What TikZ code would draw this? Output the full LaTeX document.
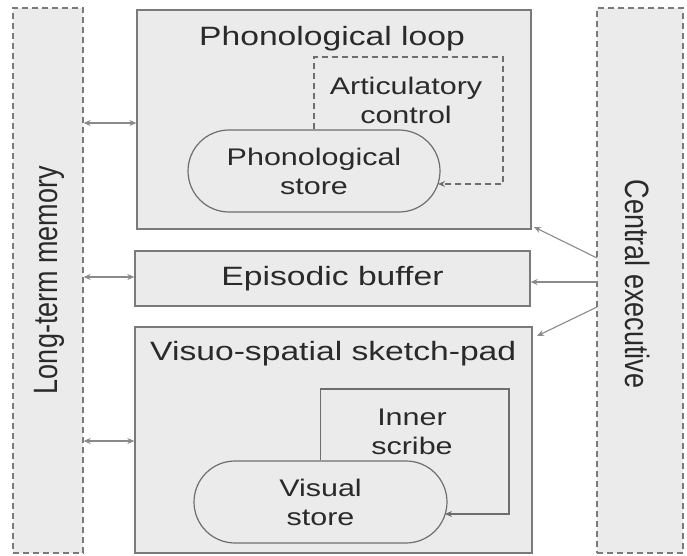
\documentclass[tikz,border=0pt]{standalone}
\usepackage{fontspec}
\usepackage{graphicx}
\setmainfont[FakeStretch=1.27]{Liberation Sans}
\newfontfamily\rotfont{Liberation Sans}
\usetikzlibrary{arrows.meta,shapes.misc}
\definecolor{boxfill}{HTML}{EBEBEB}
\definecolor{boxline}{HTML}{7A7A7A}
\definecolor{txt}{HTML}{2A2A2A}
\definecolor{arr}{HTML}{8A8A8A}
\tikzset{
  outerbox/.style={draw=boxline, fill=boxfill, line width=1.3pt, dash pattern=on 6pt off 4pt},
  modbox/.style={draw=boxline, fill=boxfill, line width=1.3pt},
  storebox/.style={rounded rectangle, draw=boxline!90!black, line width=1.2pt, fill=boxfill,
     inner sep=0pt, align=center, text=txt, font=\fontsize{24}{29}\selectfont},
  titletxt/.style={text=txt, font=\fontsize{26.5}{29}\selectfont, inner sep=0pt},
  subtxt/.style={text=txt, font=\fontsize{24}{29}\selectfont, align=center, inner sep=0pt},
  rottxt/.style={text=txt, font=\rotfont\fontsize{27}{29}\selectfont, inner sep=0pt},
  link/.style={draw=arr, line width=1.1pt},
  tip/.style={-{Stealth[length=7pt,width=6pt]}},
  dtip/.style={{Stealth[length=7pt,width=6pt]}-{Stealth[length=7pt,width=6pt]}},
  loopline/.style={draw=boxline!90!black, line width=1.1pt},
}
\begin{document}
\begin{tikzpicture}[x=1pt,y=-1pt]
\useasboundingbox (0,0) rectangle (687,556);
% outer columns
\node[outerbox, minimum width=70pt, minimum height=545pt, inner sep=0pt] (ltm) at (48,280.5) {};
\node[outerbox, minimum width=86pt, minimum height=545pt, inner sep=0pt] (ce) at (640,280.5) {};
\node[rottxt, rotate=90] (ltmt) at (49,280) {\scalebox{1}[1.25]{Long-term memory}};
\node[rottxt, rotate=-90] (cet) at (638,284) {\scalebox{1}[1.25]{Central executive}};
% modules
\node[modbox, minimum width=394pt, minimum height=219pt, inner sep=0pt] (pl) at (334,119.5) {};
\node[modbox, minimum width=395pt, minimum height=55pt, inner sep=0pt] (eb) at (332.5,278.5) {};
\node[modbox, minimum width=397pt, minimum height=226pt, inner sep=0pt] (vs) at (333.5,440) {};
\node[titletxt, anchor=base] (plt) at (332,46) {Phonological loop};
\node[titletxt] (ebt) at (332.5,279) {Episodic buffer};
\node[titletxt, anchor=base west] (vst) at (150,360) {Visuo-spatial sketch-pad};
% phonological loop internals
\node[storebox, minimum width=252pt, minimum height=82pt] (ps) at (314,171) {Phonological\\store};
\coordinate (ac1) at (503,57);
\coordinate (acend) at (438,184);
\draw[loopline, dash pattern=on 6pt off 4pt, tip] (ps.north) |- (ac1) |- (acend);
\node[subtxt] (act) at (406,100) {Articulatory\\control};
% visuo-spatial internals
\node[storebox, minimum width=253pt, minimum height=82pt] (vis) at (320.5,502) {Visual\\store};
\coordinate (is1) at (509,389);
\coordinate (isend) at (445,514);
\draw[loopline, tip] (vis.north) |- (is1) |- (isend);
\node[subtxt] (ist) at (412,432) {Inner\\scribe};
% links to long-term memory
\draw[link, dtip] (ltm.east |- 0,123) -- (pl.west |- 0,123);
\draw[link, dtip] (ltm.east |- 0,277) -- (eb.west |- 0,277);
\draw[link, dtip] (ltm.east |- 0,441) -- (vs.west |- 0,441);
% links from central executive
\coordinate (c1) at (597,258);
\coordinate (c2) at (597,282);
\coordinate (c3) at (597,307);
\coordinate (p1) at (534,227);
\coordinate (p3) at (537,336);
\draw[link, tip] (c1) -- (p1);
\draw[link, tip] (c2) -- (eb.east |- c2);
\draw[link, tip] (c3) -- (p3);
\end{tikzpicture}
\end{document}
